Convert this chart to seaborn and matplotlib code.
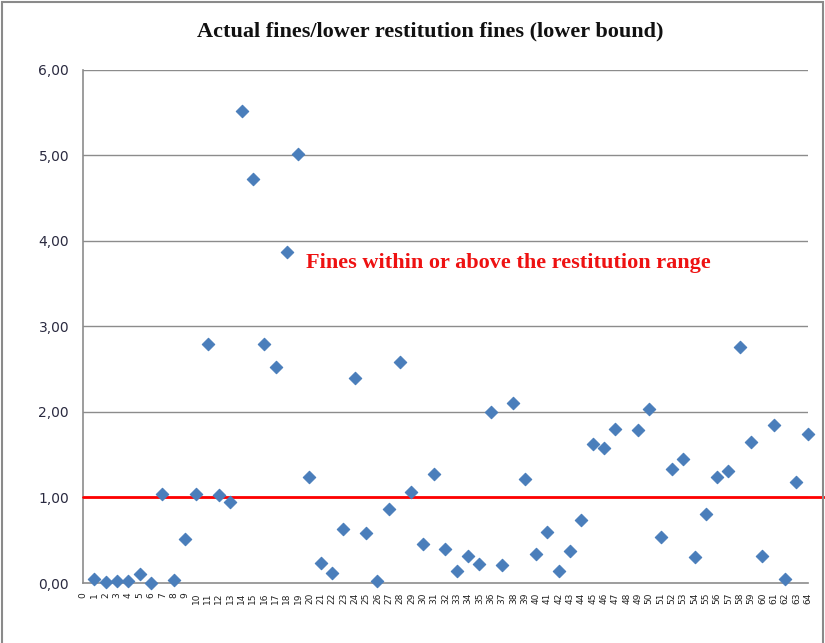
"""Actual fines / lower restitution fines scatter, Excel-style."""

import matplotlib
matplotlib.use("Agg")
import matplotlib.pyplot as plt
from matplotlib.patches import Rectangle
import numpy as np
import pandas as pd
import seaborn as sns

TITLE = "Actual fines/lower restitution fines (lower bound)"
NOTE = "Fines within or above the restitution range"

# case number -> ratio actual fine / lower restitution fine (case 48 blank)
cases = list(range(1, 65))
ratios = [
    0.05, 0.01, 0.02, 0.02, 0.10, 0.00, 1.04, 0.03, 0.52, 1.04,
    2.80, 1.03, 0.95, 5.52, 4.73, 2.80, 2.53, 3.87, 5.02, 1.24,
    0.23, 0.12, 0.63, 2.40, 0.59, 0.02, 0.87, 2.58, 1.07, 0.46,
    1.27, 0.40, 0.14, 0.32, 0.22, 2.00, 0.21, 2.10, 1.22, 0.34,
    0.60, 0.14, 0.38, 0.74, 1.63, 1.58, 1.80, np.nan, 1.79, 2.04,
    0.54, 1.33, 1.45, 0.30, 0.81, 1.24, 1.31, 2.76, 1.65, 0.32,
    1.85, 0.05, 1.18, 1.74,
]
x_labels = [str(i) for i in range(0, 65)]
y_ticks = [0, 1, 2, 3, 4, 5, 6]
threshold = 1.0
note_pos = (19.7, 3.74)

df = pd.DataFrame({"case": cases, "ratio": ratios})

sns.set_style("white")
plt.rcParams["font.family"] = ["DejaVu Sans"]

fig = plt.figure(figsize=(8.25, 6.43), dpi=100)
ax = fig.add_axes([0.1006, 0.0933, 0.8785, 0.798])

grey = "#8c8c8c"
for y in y_ticks[1:]:
    ax.axhline(y, color=grey, lw=1.0, zorder=1)

sns.scatterplot(data=df, x="case", y="ratio", marker="D", s=40,
                color="#4a7ebb", edgecolor="#4a7ebb", linewidth=0.8,
                ax=ax, zorder=4, legend=False, clip_on=False)

ax.plot([0, 1.022], [threshold, threshold], color="#ff0000", lw=2.0,
        transform=ax.get_yaxis_transform(), clip_on=False, zorder=3)

ax.text(note_pos[0], note_pos[1], NOTE, color="#ee1111", fontsize=16,
        fontweight="bold", family=["Liberation Serif"], va="center",
        ha="left", zorder=5)

ax.set_xlim(0, 64)
ax.set_ylim(0, 6)
ax.set_xticks(range(0, 65))
ax.set_xticklabels(x_labels, rotation=90, fontsize=6.5, color="#222222")
ax.set_yticks(y_ticks)
ax.set_yticklabels([f"{v:.2f}".replace(".", ",") for v in y_ticks],
                   fontsize=10, color="#2a2a40")
ax.tick_params(axis="both", direction="out", length=4, width=1,
               color=grey, pad=3)
ax.tick_params(axis="y", pad=6)
ax.set_xlabel("")
ax.set_ylabel("")

for side in ["top", "right"]:
    ax.spines[side].set_visible(False)
for side in ["left", "bottom"]:
    ax.spines[side].set_color(grey)
    ax.spines[side].set_linewidth(1.2)

fig.text(0.522, 0.951, TITLE, ha="center", va="center", fontsize=16,
         fontweight="bold", family=["Liberation Serif"], color="#111111")

fig.patches.append(Rectangle((0.003, -0.05), 0.994, 1.047,
                             transform=fig.transFigure, fill=False,
                             ec="#8a8a8a", lw=1.5))

fig.savefig("out.png", dpi=100)
